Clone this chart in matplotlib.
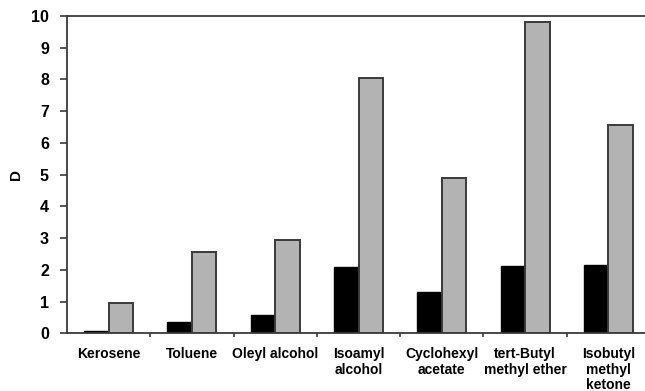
import matplotlib
matplotlib.use("Agg")
import matplotlib.pyplot as plt
import numpy as np

solvents = ["Kerosene", "Toluene", "Oleyl alcohol", "Isoamyl\nalcohol",
            "Cyclohexyl\nacetate", "tert-Butyl\nmethyl ether", "Isobutyl\nmethyl\nketone"]
d_black = [0.08, 0.36, 0.59, 2.08, 1.30, 2.12, 2.16]
d_gray = [0.95, 2.56, 2.94, 8.04, 4.88, 9.82, 6.56]
y_ticks = list(range(0, 11))

plt.rcParams["font.family"] = ["Liberation Sans", "DejaVu Sans"]
plt.rcParams["font.weight"] = "bold"

fig = plt.figure(figsize=(6.45, 3.91), dpi=100)
ax = fig.add_axes([67 / 645, 57.7 / 391, 583 / 645, 317.3 / 391])

x = np.arange(len(solvents)) + 0.5
w = 0.295
edge = "#3a3a3a"
ax.bar(x - w / 2, d_black, width=w, color="black", edgecolor="black", linewidth=1.0)
ax.bar(x + w / 2, d_gray, width=w, color="#b3b3b3", edgecolor=edge, linewidth=1.4)

ax.set_xlim(0, len(solvents))
ax.set_ylim(0, 10)
ax.set_yticks(y_ticks)
ax.set_yticklabels([str(v) for v in y_ticks], fontsize=11.5, fontweight="bold")

ax.set_xticks(x)
ax.set_xticklabels(solvents, fontsize=10, fontweight="bold", va="top", linespacing=1.12)
ax.tick_params(axis="x", which="major", length=0, pad=10)
ax.set_xticks(np.arange(1, len(solvents)), minor=True)
ax.tick_params(axis="x", which="minor", length=3, width=1.2, color=edge, direction="out")
ax.tick_params(axis="y", length=5, width=1.2, color=edge, direction="out", pad=8)

for s in ["left", "top", "bottom", "right"]:
    ax.spines[s].set_color(edge)
    ax.spines[s].set_linewidth(1.3)

ax.set_ylabel("D", fontsize=11, fontweight="bold", labelpad=6)

fig.savefig("out.png", dpi=100)
